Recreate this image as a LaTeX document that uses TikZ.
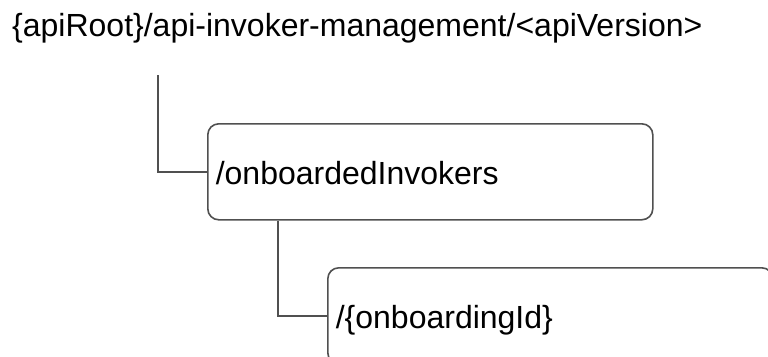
\documentclass[tikz,border=0pt]{standalone}
\usepackage{fontspec}
\setmainfont{Liberation Sans}
\definecolor{linegray}{HTML}{505050}
\tikzset{
  treebox/.style={draw=linegray, line width=1.6pt, rounded corners=11pt, anchor=north west,
    minimum width=445pt, minimum height=96pt, inner xsep=8pt, inner ysep=0pt,
    text width=429pt, align=left, text height=26pt, text depth=0pt,
    font=\fontsize{32}{38}\selectfont},
  treeline/.style={draw=linegray, line width=1.4pt},
  titletext/.style={anchor=base west, inner sep=0pt, font=\fontsize{32}{38}\selectfont}
}
\begin{document}
\begin{tikzpicture}[x=1pt, y=-1pt]
  \useasboundingbox (0,0) rectangle (768,356);
  \begin{scope}
    \clip (0,0) rectangle (768,356);
    \node[titletext] (root) at (12,36) {\{apiRoot\}/api-invoker-management/<apiVersion>};
    \node[treebox] (invokers) at (207,123) {/onboardedInvokers};
    \node[treebox] (onboarding) at (327,267) {/\{onboardingId\}};
    \coordinate (c1) at (158,75);
    \coordinate (c2) at (278,0);
    \draw[treeline] (c1) |- (invokers.west);
    \draw[treeline] (invokers.south -| c2) |- (onboarding.west);
  \end{scope}
\end{tikzpicture}
\end{document}
